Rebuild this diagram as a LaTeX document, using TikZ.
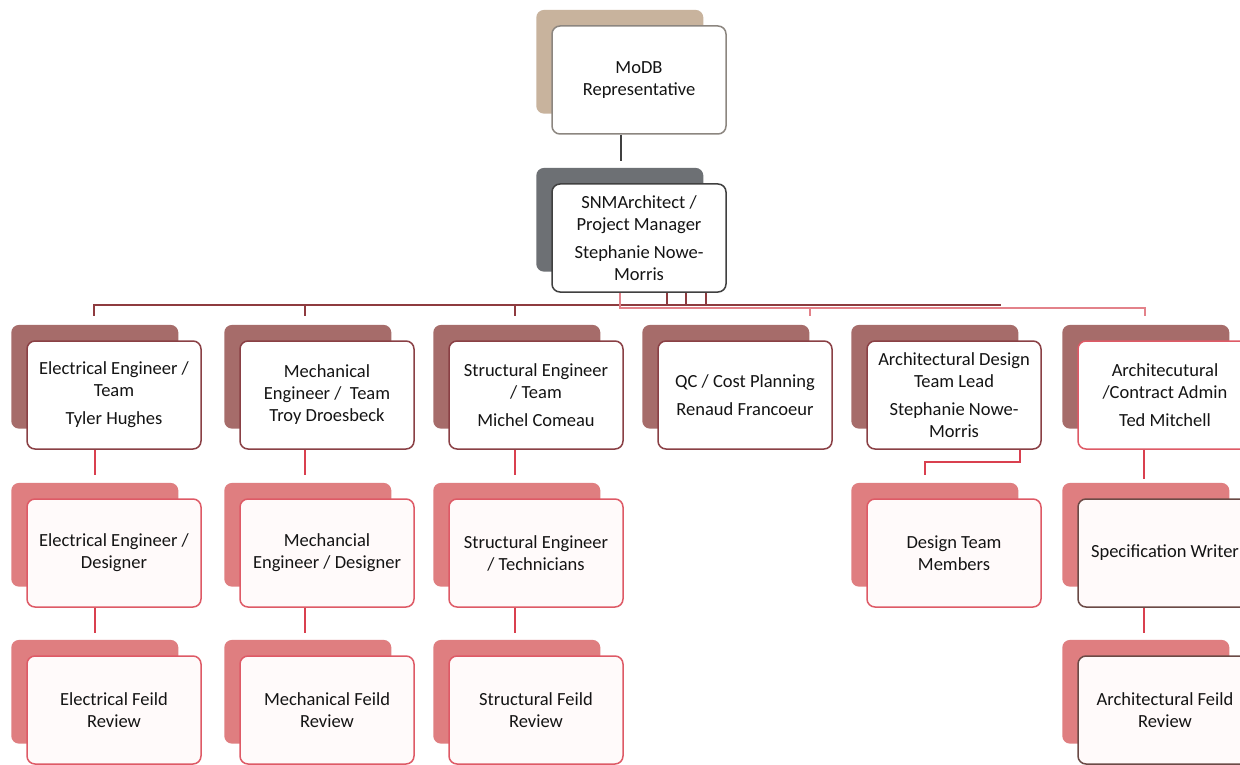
\documentclass[tikz,border=0pt]{standalone}
\usepackage{fontspec}
\setmainfont{Carlito}
\usetikzlibrary{shadows}

\definecolor{tanback}{HTML}{C8B39D}
\definecolor{greyback}{HTML}{6D7074}
\definecolor{roseback}{HTML}{A66C6A}
\definecolor{salmonback}{HTML}{DF7E80}
\definecolor{tanedge}{HTML}{8C8680}
\definecolor{greyedge}{HTML}{404040}
\definecolor{roseedge}{HTML}{8A4045}
\definecolor{rededge}{HTML}{DE5A66}
\definecolor{brownedge}{HTML}{6B4A46}
\definecolor{busdark}{HTML}{8E3B3F}
\definecolor{buspink}{HTML}{E3828A}
\definecolor{linkred}{HTML}{D9404F}

\tikzset{
  orgbox/.style={draw, rounded corners=8pt, minimum width=174pt, minimum height=108pt,
    inner sep=0pt, align=center, fill=white, line width=1.5pt, text=black!92,
    font=\fontsize{18.5}{22}\selectfont},
  backbox/.style={general shadow={fill=#1, draw=none, shadow xshift=-20pt,
    shadow yshift=19pt, shadow scale=0.96}},
  lvltop/.style={orgbox, backbox=tanback, draw=tanedge},
  lvlpm/.style={orgbox, backbox=greyback, draw=greyedge},
  lvlteam/.style={orgbox, backbox=roseback, draw=roseedge},
  lvlstaff/.style={orgbox, backbox=salmonback, draw=rededge, fill=red!2},
  link/.style={line width=1.6pt},
}

\begin{document}
\begin{tikzpicture}[x=1pt, y=-1pt]
\useasboundingbox (0,0) rectangle (1240,765);
\clip (0,0) rectangle (1240,765);
\fill[white] (0,0) rectangle (1240,765);

\node[lvltop] (modb) at (639,80) {MoDB\\Representative};
\node[lvlpm] (snm) at (639,238) {SNMArchitect /\\Project Manager\\[6pt]Stephanie Nowe-\\Morris};

\node[lvlteam] (elec) at (114,395) {Electrical Engineer /\\Team\\[6pt]Tyler Hughes};
\node[lvlteam] (mech) at (327,395) {Mechanical\\Engineer /\ \ Team\\Troy Droesbeck};
\node[lvlteam] (struct) at (536,395) {Structural Engineer\\/ Team\\[6pt]Michel Comeau};
\node[lvlteam] (qc) at (745,395) {QC / Cost Planning\\[6pt]Renaud Francoeur};
\node[lvlteam] (archd) at (954,395) {Architectural Design\\Team Lead\\[6pt]Stephanie Nowe-\\Morris};
\node[lvlteam, draw=rededge] (archc) at (1165,395) {Architecutural\\/Contract Admin\\[6pt]Ted Mitchell};

\node[lvlstaff] (elecd) at (114,553) {Electrical Engineer /\\Designer};
\node[lvlstaff] (mechd) at (327,553) {Mechancial\\Engineer / Designer};
\node[lvlstaff] (structd) at (536,553) {Structural Engineer\\/ Technicians};
\node[lvlstaff] (dtm) at (954,553) {Design Team\\Members};
\node[lvlstaff, draw=brownedge] (spec) at (1165,553) {Specification Writer};

\node[lvlstaff] (elecf) at (114,710) {Electrical Feild\\Review};
\node[lvlstaff] (mechf) at (327,710) {Mechanical Feild\\Review};
\node[lvlstaff] (structf) at (536,710) {Structural Feild\\Review};
\node[lvlstaff, draw=brownedge] (archf) at (1165,710) {Architectural Feild\\Review};

% top of the chart
\draw[link, greyedge, shorten >=22pt] ([xshift=-18pt]modb.south) -- ([xshift=-18pt]snm.north);

% bus under the project manager
\draw[link, busdark, shorten >=24pt] ([xshift=28pt]snm.south) -- ++(0,12) -| ([xshift=-20pt]elec.north);
\draw[link, busdark, shorten >=24pt] ([xshift=47pt]snm.south) -- ++(0,12) -| ([xshift=-22pt]mech.north);
\draw[link, busdark, shorten >=24pt] ([xshift=67pt]snm.south) -- ++(0,12) -| ([xshift=-21pt]struct.north);
\draw[link, busdark, shorten >=36pt] ([xshift=-19pt]snm.south) -- ++(0,12) -| ([xshift=46pt]archd.north);
\draw[link, buspink, shorten >=24pt] ([xshift=-19pt]snm.south) -- ++(0,15) -| ([xshift=65pt]qc.north);
\draw[link, buspink, shorten >=24pt] ([xshift=-19pt]snm.south) -- ++(0,15) -| ([xshift=-20pt]archc.north);

% down the columns
\draw[link, linkred, shorten >=23pt] ([xshift=-19pt]elec.south) -- ([xshift=-19pt]elecd.north);
\draw[link, linkred, shorten >=23pt] ([xshift=-22pt]mech.south) -- ([xshift=-22pt]mechd.north);
\draw[link, linkred, shorten >=23pt] ([xshift=-21pt]struct.south) -- ([xshift=-21pt]structd.north);
\draw[link, linkred, shorten >=23pt] ([xshift=66pt]archd.south) -- ++(0,12) -| ([xshift=-29pt]dtm.north);
\draw[link, linkred, shorten >=19pt] ([xshift=-21pt]archc.south) -- ([xshift=-21pt]spec.north);

\draw[link, linkred, shorten >=22pt] ([xshift=-19pt]elecd.south) -- ([xshift=-19pt]elecf.north);
\draw[link, linkred, shorten >=22pt] ([xshift=-22pt]mechd.south) -- ([xshift=-22pt]mechf.north);
\draw[link, linkred, shorten >=22pt] ([xshift=-21pt]structd.south) -- ([xshift=-21pt]structf.north);
\draw[link, linkred, shorten >=22pt] ([xshift=-21pt]spec.south) -- ([xshift=-21pt]archf.north);
\end{tikzpicture}
\end{document}
